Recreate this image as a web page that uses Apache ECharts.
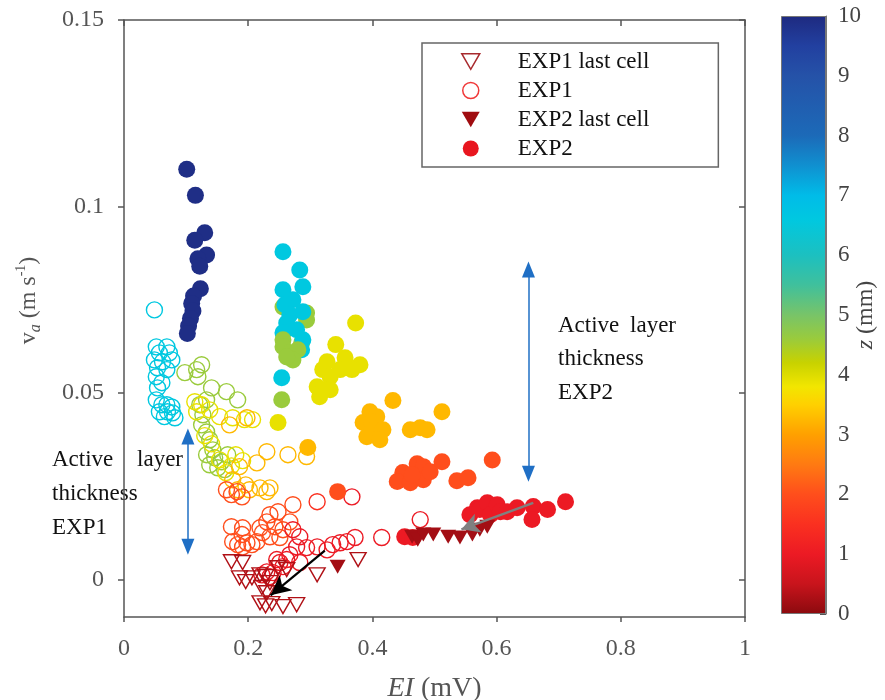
<!DOCTYPE html>
<html>
<head>
<meta charset="utf-8">
<script src="https://cdn.jsdelivr.net/npm/echarts@6/dist/echarts.min.js"></script>
<style>
  html, body { margin: 0; padding: 0; background: #ffffff; }
  #chart { width: 885px; height: 700px; }
</style>
</head>
<body>
<div id="chart"></div>
<script>
// Each point: [EI (mV), v_a (m s^-1), z (mm)]
const exp1LastCell = [
  [0.173, 0.0048, 0.3], [0.191, 0.0046, 0.3], [0.186, 0.0005, 0.3], [0.196, -0.0005, 0.3],
  [0.206, 0.0005, 0.3], [0.219, 0.0013, 0.3], [0.228, 0.0008, 0.3], [0.222, -0.0021, 0.3],
  [0.230, -0.0035, 0.3], [0.219, -0.0062, 0.3], [0.228, -0.0070, 0.3], [0.238, -0.0064, 0.3],
  [0.256, -0.0072, 0.3], [0.278, -0.0067, 0.3], [0.262, 0.0027, 0.3], [0.311, 0.0013, 0.3],
  [0.377, 0.0054, 0.3], [0.248, 0.0032, 0.3], [0.235, -0.0008, 0.3]
];

const exp1 = [
  // z ~ 6.6
  [0.049, 0.0723, 6.6], [0.052, 0.0624, 6.6], [0.069, 0.0624, 6.6], [0.073, 0.0608, 6.6],
  [0.057, 0.0608, 6.6], [0.049, 0.0589, 6.6], [0.062, 0.0584, 6.6], [0.077, 0.0589, 6.6],
  [0.054, 0.0568, 6.6], [0.069, 0.0563, 6.6], [0.052, 0.0544, 6.6], [0.061, 0.0528, 6.6],
  [0.054, 0.0514, 6.6], [0.052, 0.0482, 6.6], [0.061, 0.0469, 6.6], [0.069, 0.0469, 6.6],
  [0.077, 0.0463, 6.6], [0.057, 0.0450, 6.6], [0.070, 0.0450, 6.6], [0.078, 0.0447, 6.6],
  [0.065, 0.0437, 6.6], [0.082, 0.0434, 6.6],
  // z ~ 4.6
  [0.098, 0.0555, 4.6], [0.117, 0.0563, 4.6], [0.125, 0.0576, 4.6], [0.119, 0.0544, 4.6],
  [0.141, 0.0514, 4.6], [0.165, 0.0504, 4.6], [0.183, 0.0482, 4.6], [0.133, 0.0482, 4.6],
  [0.122, 0.0469, 4.6], [0.127, 0.0442, 4.6], [0.125, 0.0415, 4.6], [0.133, 0.0396, 4.6],
  [0.138, 0.0375, 4.6], [0.143, 0.0348, 4.6], [0.133, 0.0335, 4.6], [0.146, 0.0327, 4.6],
  [0.157, 0.0316, 4.6], [0.138, 0.0308, 4.6], [0.151, 0.0300, 4.6], [0.167, 0.0335, 4.6],
  [0.162, 0.0295, 4.6],
  // z ~ 3.9
  [0.114, 0.0477, 3.9], [0.125, 0.0469, 3.9], [0.117, 0.0450, 3.9], [0.138, 0.0455, 3.9],
  [0.154, 0.0437, 3.9], [0.175, 0.0434, 3.9], [0.194, 0.0429, 3.9], [0.207, 0.0429, 3.9],
  [0.130, 0.0386, 3.9], [0.141, 0.0364, 3.9], [0.154, 0.0321, 3.9], [0.173, 0.0305, 3.9],
  [0.180, 0.0335, 3.9], [0.191, 0.0319, 3.9], [0.164, 0.0287, 3.9],
  // z ~ 3.25
  [0.198, 0.0434, 3.25], [0.170, 0.0415, 3.25], [0.230, 0.0343, 3.25], [0.264, 0.0335, 3.25],
  [0.294, 0.0330, 3.25], [0.214, 0.0313, 3.25], [0.186, 0.0303, 3.25], [0.175, 0.0268, 3.25],
  [0.196, 0.0254, 3.25], [0.202, 0.0241, 3.25], [0.219, 0.0246, 3.25], [0.230, 0.0236, 3.25],
  [0.235, 0.0246, 3.25], [0.183, 0.0241, 3.25],
  // z ~ 2
  [0.165, 0.0241, 2], [0.182, 0.0236, 2], [0.190, 0.0222, 2], [0.173, 0.0228, 2],
  [0.173, 0.0142, 2], [0.191, 0.0139, 2], [0.190, 0.0121, 2], [0.183, 0.0094, 2],
  [0.198, 0.0099, 2], [0.214, 0.0102, 2], [0.223, 0.0126, 2], [0.230, 0.0155, 2],
  [0.235, 0.0174, 2], [0.248, 0.0182, 2], [0.243, 0.0142, 2], [0.256, 0.0134, 2],
  [0.272, 0.0201, 2], [0.219, 0.0139, 2], [0.235, 0.0115, 2], [0.206, 0.0094, 2],
  [0.175, 0.0102, 2], [0.191, 0.0088, 2], [0.251, 0.0113, 2], [0.267, 0.0155, 2],
  // z ~ 1.5
  [0.311, 0.0209, 1.5],
  // z ~ 1
  [0.367, 0.0222, 1], [0.272, 0.0134, 1], [0.283, 0.0115, 1], [0.278, 0.0088, 1],
  [0.294, 0.0086, 1], [0.311, 0.0088, 1], [0.327, 0.0080, 1], [0.336, 0.0094, 1],
  [0.348, 0.0099, 1], [0.359, 0.0102, 1], [0.372, 0.0113, 1], [0.415, 0.0113, 1],
  [0.477, 0.0161, 1], [0.251, 0.0046, 1], [0.262, 0.0054, 1], [0.246, 0.0054, 1],
  [0.230, 0.0021, 1], [0.222, 0.0013, 1], [0.240, 0.0019, 1], [0.256, 0.0035, 1],
  [0.283, 0.0046, 1], [0.235, 0.0008, 1], [0.267, 0.0067, 1]
];

const exp2LastCell = [
  [0.464, 0.0115, 0.2], [0.473, 0.0107, 0.2], [0.482, 0.0121, 0.2], [0.498, 0.0121, 0.2],
  [0.522, 0.0115, 0.2], [0.541, 0.0113, 0.2], [0.561, 0.0121, 0.2], [0.573, 0.0134, 0.2],
  [0.585, 0.0142, 0.2], [0.344, 0.0035, 0.2]
];

const exp2 = [
  // z ~ 9.9
  [0.101, 0.110, 9.9], [0.115, 0.103, 9.9], [0.130, 0.093, 9.9], [0.114, 0.091, 9.9],
  [0.133, 0.087, 9.9], [0.119, 0.086, 9.9], [0.122, 0.084, 9.9], [0.123, 0.078, 9.9],
  [0.112, 0.076, 9.9], [0.109, 0.074, 9.9], [0.111, 0.072, 9.9], [0.107, 0.070, 9.9],
  [0.104, 0.068, 9.9], [0.102, 0.066, 9.9],
  // z ~ 4.6 (upper)
  [0.256, 0.0731, 4.6], [0.294, 0.0715, 4.6], [0.294, 0.0696, 4.6], [0.286, 0.0635, 4.6],
  // z ~ 6.6
  [0.256, 0.0879, 6.6], [0.283, 0.0830, 6.6], [0.288, 0.0785, 6.6], [0.256, 0.0777, 6.6],
  [0.272, 0.0750, 6.6], [0.259, 0.0737, 6.6], [0.267, 0.0710, 6.6], [0.288, 0.0718, 6.6],
  [0.262, 0.0688, 6.6], [0.278, 0.0670, 6.6], [0.256, 0.0662, 6.6], [0.288, 0.0643, 6.6],
  [0.286, 0.0616, 6.6], [0.254, 0.0541, 6.6],
  // z ~ 4.6 (lower)
  [0.256, 0.0643, 4.6], [0.256, 0.0624, 4.6], [0.267, 0.0608, 4.6], [0.280, 0.0616, 4.6],
  [0.272, 0.0589, 4.6], [0.262, 0.0597, 4.6], [0.254, 0.0482, 4.6],
  // z ~ 3.9
  [0.373, 0.0688, 3.9], [0.341, 0.0630, 3.9], [0.356, 0.0595, 3.9], [0.380, 0.0576, 3.9],
  [0.367, 0.0563, 3.9], [0.348, 0.0563, 3.9], [0.327, 0.0584, 3.9], [0.320, 0.0563, 3.9],
  [0.332, 0.0544, 3.9], [0.311, 0.0517, 3.9], [0.320, 0.0509, 3.9], [0.332, 0.0509, 3.9],
  [0.315, 0.0490, 3.9], [0.248, 0.0421, 3.9],
  // z ~ 3.25
  [0.433, 0.0480, 3.25], [0.396, 0.0450, 3.25], [0.407, 0.0437, 3.25], [0.385, 0.0421, 3.25],
  [0.399, 0.0423, 3.25], [0.401, 0.0402, 3.25], [0.417, 0.0402, 3.25], [0.391, 0.0383, 3.25],
  [0.412, 0.0375, 3.25], [0.461, 0.0402, 3.25], [0.477, 0.0407, 3.25], [0.488, 0.0402, 3.25],
  [0.512, 0.0450, 3.25], [0.296, 0.0354, 3.25],
  // z ~ 2
  [0.472, 0.0311, 2], [0.482, 0.0303, 2], [0.449, 0.0287, 2], [0.440, 0.0263, 2],
  [0.461, 0.0260, 2], [0.482, 0.0268, 2], [0.493, 0.0289, 2], [0.464, 0.0281, 2],
  [0.512, 0.0316, 2], [0.536, 0.0265, 2], [0.554, 0.0273, 2], [0.593, 0.0321, 2],
  [0.344, 0.0236, 2],
  // z ~ 1
  [0.452, 0.0115, 1], [0.465, 0.0113, 1], [0.557, 0.0174, 1], [0.569, 0.0193, 1],
  [0.573, 0.0188, 1], [0.585, 0.0206, 1], [0.590, 0.0174, 1], [0.601, 0.0201, 1],
  [0.606, 0.0182, 1], [0.617, 0.0182, 1], [0.633, 0.0193, 1], [0.659, 0.0196, 1],
  [0.657, 0.0161, 1], [0.682, 0.0188, 1], [0.711, 0.0209, 1]
];

const xTickValues = [0, 0.2, 0.4, 0.6, 0.8, 1];
const yTickValues = [0, 0.05, 0.1, 0.15];
const zTickValues = [0, 1, 2, 3, 4, 5, 6, 7, 8, 9, 10];

// Annotation arrows in data units: [[x0, y0], [x1, y1]]
const thicknessArrowExp1 = [[0.1029, 0.0384], [0.1029, 0.0088]];
const thicknessArrowExp2 = [[0.6513, 0.0831], [0.6513, 0.0284]];
const blackArrow = [[0.3234, 0.0078], [0.2361, -0.0042]];
const greyArrow = [[0.6590, 0.0206], [0.5434, 0.0135]];

// Colour scale for z (mm)
const zColorStops = [
  [0, '#8b0a0e'], [0.5, '#c8141c'], [1, '#ec1a24'], [1.5, '#fa3020'], [2, '#ff4e1c'],
  [2.5, '#ff7a12'], [3, '#ffa000'], [3.5, '#ffd000'], [3.8, '#f2e600'], [4.2, '#c8d200'],
  [4.6, '#9acb3c'], [5, '#78c468'], [5.5, '#40c09c'], [6, '#1cc0c0'], [6.6, '#00c8e0'],
  [7, '#00bce8'], [7.5, '#1090d0'], [8, '#1c6ab8'], [9, '#2552a8'], [9.5, '#2240a0'],
  [10, '#1e2a80']
];

function hexToRgb(h) {
  const n = parseInt(h.slice(1), 16);
  return [(n >> 16) & 255, (n >> 8) & 255, n & 255];
}
function colorFor(z) {
  for (let i = 0; i < zColorStops.length - 1; i++) {
    const [z0, c0] = zColorStops[i];
    const [z1, c1] = zColorStops[i + 1];
    if (z >= z0 && z <= z1) {
      const t = (z - z0) / (z1 - z0);
      const a = hexToRgb(c0), b = hexToRgb(c1);
      const m = a.map((v, k) => Math.round(v + (b[k] - v) * t));
      return 'rgb(' + m.join(',') + ')';
    }
  }
  return zColorStops[zColorStops.length - 1][1];
}
function hollowItems(arr) {
  return arr.map(p => ({ value: p, itemStyle: { color: 'rgba(0,0,0,0)', borderColor: colorFor(p[2]), borderWidth: 1.4, opacity: 1 } }));
}
function filledItems(arr) {
  return arr.map(p => ({ value: p, itemStyle: { color: colorFor(p[2]), borderWidth: 0, opacity: 1 } }));
}

const serif = 'Liberation Serif';
const axisGrey = '#555555';
const triDown = 'path://M0,0L12,0L6,10.4Z';

function arrowSeries(name, pts, color, width, symbols, size) {
  return {
    type: 'scatter', name: name, data: [], silent: true,
    xAxisIndex: 0, yAxisIndex: 0,
    markLine: {
      silent: true, animation: false,
      symbol: symbols, symbolSize: size,
      label: { show: false },
      emphasis: { disabled: true },
      lineStyle: { color: color, width: width, type: 'solid', opacity: 1 },
      data: [[{ coord: pts[0] }, { coord: pts[1] }]]
    }
  };
}

const chart = echarts.init(document.getElementById('chart'), null, { renderer: 'canvas' });

const gradient = new echarts.graphic.LinearGradient(0, 1, 0, 0,
  zColorStops.map(([z, c]) => ({ offset: z / 10, color: c })));

const option = {
  animation: false,
  backgroundColor: '#ffffff',
  grid: [
    { left: 124, top: 20, width: 621, height: 597, outerBoundsMode: 'none', containLabel: false },
    { left: 781, top: 16, width: 45, height: 598, outerBoundsMode: 'none', containLabel: false }
  ],
  xAxis: [
    {
      gridIndex: 0, type: 'value', min: 0, max: 1, interval: 0.2, position: 'bottom',
      name: '{i|EI} (mV)', nameLocation: 'middle', nameGap: 58, nameMoveOverlap: false,
      nameTextStyle: {
        fontFamily: serif, fontSize: 28, color: axisGrey,
        rich: { i: { fontFamily: serif, fontSize: 28, fontStyle: 'italic', color: axisGrey } }
      },
      axisLine: { show: true, onZero: false, lineStyle: { color: axisGrey, width: 1.5 } },
      axisTick: { show: true, inside: false, length: 5, lineStyle: { color: axisGrey, width: 1.5 } },
      axisLabel: { fontFamily: serif, fontSize: 24, color: axisGrey, margin: 20 },
      splitLine: { show: false }
    },
    {
      gridIndex: 0, type: 'value', min: 0, max: 1, interval: 0.2, position: 'top',
      axisLine: { show: true, onZero: false, lineStyle: { color: axisGrey, width: 1.5 } },
      axisTick: { show: true, inside: true, length: 6, lineStyle: { color: axisGrey, width: 1.5 } },
      axisLabel: { show: false },
      splitLine: { show: false }
    },
    {
      gridIndex: 1, type: 'category', data: ['z'], show: false
    }
  ],
  yAxis: [
    {
      gridIndex: 0, type: 'value', min: -0.01, max: 0.15, position: 'left',
      name: '{v|v}{a|a}{n| (m s}{s|-1}{n|)}', nameLocation: 'middle', nameGap: 80, nameRotate: 90,
      nameMoveOverlap: false,
      nameTextStyle: {
        fontFamily: serif, fontSize: 24, color: axisGrey, padding: [0, 0, 0, 36],
        rich: {
          v: { fontFamily: serif, fontSize: 24, color: axisGrey, lineHeight: 30, verticalAlign: 'middle' },
          a: { fontFamily: serif, fontSize: 16, fontStyle: 'italic', color: axisGrey, lineHeight: 30, verticalAlign: 'bottom' },
          n: { fontFamily: serif, fontSize: 24, color: axisGrey, lineHeight: 30, verticalAlign: 'middle' },
          s: { fontFamily: serif, fontSize: 14, color: axisGrey, lineHeight: 30, verticalAlign: 'top' }
        }
      },
      axisLine: { show: true, onZero: false, lineStyle: { color: axisGrey, width: 1.5 } },
      axisTick: { show: true, inside: false, length: 6, customValues: yTickValues, lineStyle: { color: axisGrey, width: 1.5 } },
      axisLabel: { fontFamily: serif, fontSize: 24, color: axisGrey, margin: 20, customValues: yTickValues },
      splitLine: { show: false }
    },
    {
      gridIndex: 0, type: 'value', min: -0.01, max: 0.15, position: 'right',
      axisLine: { show: true, onZero: false, lineStyle: { color: axisGrey, width: 1.5 } },
      axisTick: { show: true, inside: true, length: 6, customValues: yTickValues, lineStyle: { color: axisGrey, width: 1.5 } },
      axisLabel: { show: false, customValues: yTickValues },
      splitLine: { show: false }
    },
    {
      gridIndex: 1, type: 'value', min: 0, max: 10, interval: 1, position: 'right',
      name: '{i|z} (mm)', nameLocation: 'middle', nameGap: 28, nameRotate: 90,
      nameMoveOverlap: false,
      nameTextStyle: {
        fontFamily: serif, fontSize: 24, color: '#444444',
        rich: { i: { fontFamily: serif, fontSize: 24, fontStyle: 'italic', color: '#444444' } }
      },
      axisLine: { show: true, lineStyle: { color: '#777777', width: 1 } },
      axisTick: { show: true, inside: true, length: 6, lineStyle: { color: '#555555', width: 1 } },
      axisLabel: { fontFamily: serif, fontSize: 23, color: '#444444', margin: 12 },
      splitLine: { show: false }
    }
  ],
  legend: {
    orient: 'vertical', left: 422, top: 43,
    padding: [7, 69, 7, 39], itemWidth: 18, itemHeight: 16, itemGap: 6,
    borderColor: '#666666', borderWidth: 1.5, backgroundColor: '#ffffff',
    selectedMode: false,
    textStyle: { fontFamily: serif, fontSize: 23, color: '#111111', lineHeight: 22, padding: [0, 0, 0, 33] },
    data: [
      { name: 'EXP1 last cell', icon: triDown, itemStyle: { color: 'rgba(0,0,0,0)', borderColor: '#a82a2e', borderWidth: 1.5 } },
      { name: 'EXP1', icon: 'circle', itemStyle: { color: 'rgba(0,0,0,0)', borderColor: '#f03838', borderWidth: 1.5 } },
      { name: 'EXP2 last cell', icon: triDown, itemStyle: { color: '#a00c10', borderWidth: 0 } },
      { name: 'EXP2', icon: 'circle', itemStyle: { color: '#e8161f', borderWidth: 0 } }
    ]
  },
  series: [
    {
      type: 'scatter', name: 'EXP1', xAxisIndex: 0, yAxisIndex: 0,
      symbol: 'circle', symbolSize: 16,
      itemStyle: { color: 'rgba(0,0,0,0)', borderColor: '#f03838', borderWidth: 1.4, opacity: 1 },
      emphasis: { disabled: true },
      data: hollowItems(exp1)
    },
    {
      type: 'scatter', name: 'EXP1 last cell', xAxisIndex: 0, yAxisIndex: 0,
      symbol: triDown, symbolSize: [16, 14],
      itemStyle: { color: 'rgba(0,0,0,0)', borderColor: '#a82a2e', borderWidth: 1.4, opacity: 1 },
      emphasis: { disabled: true },
      data: hollowItems(exp1LastCell)
    },
    {
      type: 'scatter', name: 'EXP2', xAxisIndex: 0, yAxisIndex: 0,
      symbol: 'circle', symbolSize: 17,
      itemStyle: { color: '#e8161f', opacity: 1 },
      emphasis: { disabled: true },
      data: filledItems(exp2)
    },
    {
      type: 'scatter', name: 'EXP2 last cell', xAxisIndex: 0, yAxisIndex: 0,
      symbol: triDown, symbolSize: [16, 14],
      itemStyle: { color: '#a00c10', opacity: 1 },
      emphasis: { disabled: true },
      data: filledItems(exp2LastCell)
    },
    arrowSeries('thickness EXP1', thicknessArrowExp1, '#1f6fc5', 1.5, ['triangle', 'triangle'], [13, 16]),
    arrowSeries('thickness EXP2', thicknessArrowExp2, '#1f6fc5', 1.5, ['triangle', 'triangle'], [13, 16]),
    arrowSeries('last cell EXP1', blackArrow, '#000000', 2.2, ['none', 'arrow'], [15, 20]),
    arrowSeries('last cell EXP2', greyArrow, '#808080', 2.5, ['none', 'arrow'], [15, 18]),
    {
      type: 'bar', name: 'z scale', xAxisIndex: 2, yAxisIndex: 2,
      barWidth: '100%', silent: true,
      itemStyle: { color: gradient, borderColor: '#777777', borderWidth: 1 },
      data: [10]
    }
  ],
  graphic: [
    { type: 'text', x: 52, y: 460, style: { text: 'Active', font: '23px "Liberation Serif"', fill: '#111', verticalAlign: 'middle', align: 'left' } },
    { type: 'text', x: 183, y: 460, style: { text: 'layer', font: '23px "Liberation Serif"', fill: '#111', verticalAlign: 'middle', align: 'right' } },
    { type: 'text', x: 52, y: 494, style: { text: 'thickness', font: '23px "Liberation Serif"', fill: '#111', verticalAlign: 'middle', align: 'left' } },
    { type: 'text', x: 52, y: 528, style: { text: 'EXP1', font: '23px "Liberation Serif"', fill: '#111', verticalAlign: 'middle', align: 'left' } },
    { type: 'text', x: 558, y: 326, style: { text: 'Active', font: '23px "Liberation Serif"', fill: '#111', verticalAlign: 'middle', align: 'left' } },
    { type: 'text', x: 676, y: 326, style: { text: 'layer', font: '23px "Liberation Serif"', fill: '#111', verticalAlign: 'middle', align: 'right' } },
    { type: 'text', x: 558, y: 359, style: { text: 'thickness', font: '23px "Liberation Serif"', fill: '#111', verticalAlign: 'middle', align: 'left' } },
    { type: 'text', x: 558, y: 393, style: { text: 'EXP2', font: '23px "Liberation Serif"', fill: '#111', verticalAlign: 'middle', align: 'left' } }
  ]
};

chart.setOption(option);
</script>
</body>
</html>
